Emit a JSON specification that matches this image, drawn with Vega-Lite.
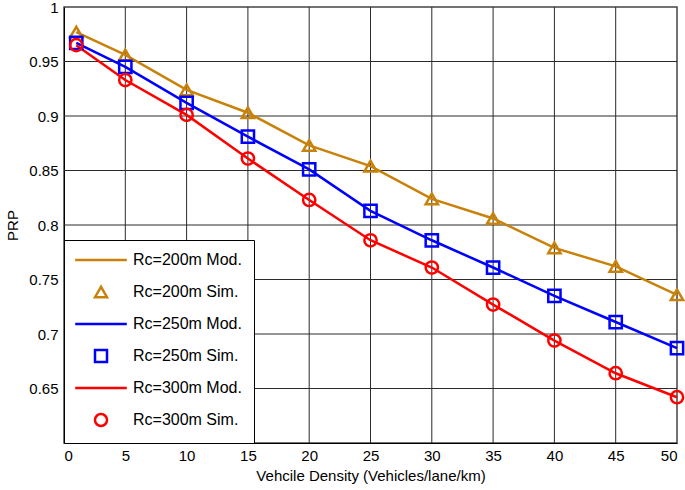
{
  "$schema": "https://vega.github.io/schema/vega-lite/v6.json",
  "width": 613,
  "height": 436,
  "autosize": "none",
  "padding": {"left": 64, "top": 7, "right": 8, "bottom": 47},
  "background": "white",
  "config": {
    "font": "Liberation Sans",
    "view": {"stroke": "#444", "strokeWidth": 1.5},
    "axis": {
      "grid": false,
      "domainColor": "#000",
      "ticks": false,
      "labelFontSize": 15,
      "labelColor": "#000",
      "titleFontSize": 15,
      "titleFontWeight": "normal",
      "titleColor": "#000"
    }
  },
  "datasets": {
    "gridx": [{"x": 5}, {"x": 10}, {"x": 15}, {"x": 20}, {"x": 25}, {"x": 30}, {"x": 35}, {"x": 40}, {"x": 45}],
    "gridy": [{"y": 0.65}, {"y": 0.7}, {"y": 0.75}, {"y": 0.8}, {"y": 0.85}, {"y": 0.9}, {"y": 0.95}],
    "prp": [
      {"x": 1, "y": 0.977, "rc": "200m"},
      {"x": 5, "y": 0.956, "rc": "200m"},
      {"x": 10, "y": 0.924, "rc": "200m"},
      {"x": 15, "y": 0.903, "rc": "200m"},
      {"x": 20, "y": 0.873, "rc": "200m"},
      {"x": 25, "y": 0.854, "rc": "200m"},
      {"x": 30, "y": 0.824, "rc": "200m"},
      {"x": 35, "y": 0.806, "rc": "200m"},
      {"x": 40, "y": 0.779, "rc": "200m"},
      {"x": 45, "y": 0.762, "rc": "200m"},
      {"x": 50, "y": 0.736, "rc": "200m"},
      {"x": 1, "y": 0.967, "rc": "250m"},
      {"x": 5, "y": 0.945, "rc": "250m"},
      {"x": 10, "y": 0.912, "rc": "250m"},
      {"x": 15, "y": 0.881, "rc": "250m"},
      {"x": 20, "y": 0.851, "rc": "250m"},
      {"x": 25, "y": 0.813, "rc": "250m"},
      {"x": 30, "y": 0.786, "rc": "250m"},
      {"x": 35, "y": 0.761, "rc": "250m"},
      {"x": 40, "y": 0.735, "rc": "250m"},
      {"x": 45, "y": 0.711, "rc": "250m"},
      {"x": 50, "y": 0.687, "rc": "250m"},
      {"x": 1, "y": 0.965, "rc": "300m"},
      {"x": 5, "y": 0.933, "rc": "300m"},
      {"x": 10, "y": 0.901, "rc": "300m"},
      {"x": 15, "y": 0.861, "rc": "300m"},
      {"x": 20, "y": 0.823, "rc": "300m"},
      {"x": 25, "y": 0.786, "rc": "300m"},
      {"x": 30, "y": 0.761, "rc": "300m"},
      {"x": 35, "y": 0.727, "rc": "300m"},
      {"x": 40, "y": 0.694, "rc": "300m"},
      {"x": 45, "y": 0.664, "rc": "300m"},
      {"x": 50, "y": 0.642, "rc": "300m"}
    ]
  },
  "layer": [
    {
      "data": {"name": "gridx"},
      "mark": {"type": "rule", "color": "#2a2a2a", "strokeWidth": 1},
      "encoding": {
        "x": {"field": "x", "type": "quantitative"}
      }
    },
    {
      "data": {"name": "gridy"},
      "mark": {"type": "rule", "color": "#2a2a2a", "strokeWidth": 1},
      "encoding": {
        "y": {"field": "y", "type": "quantitative"}
      }
    },
    {
      "data": {"name": "prp"},
      "transform": [{"calculate": "'Rc=' + datum.rc + ' Mod.'", "as": "label"}],
      "mark": {"type": "line", "strokeWidth": 2.5},
      "encoding": {
        "x": {
          "field": "x",
          "type": "quantitative",
          "scale": {"domain": [0, 50], "nice": false},
          "axis": {
            "values": [0, 5, 10, 15, 20, 25, 30, 35, 40, 45, 50],
            "title": "Vehcile Density (Vehicles/lane/km)",
            "labelPadding": 5,
            "titlePadding": 5
          }
        },
        "y": {
          "field": "y",
          "type": "quantitative",
          "scale": {"domain": [0.6, 1], "nice": false, "zero": false},
          "axis": {
            "values": [0.6, 0.65, 0.7, 0.75, 0.8, 0.85, 0.9, 0.95, 1],
            "labelExpr": "datum.value < 0.62 ? '' : format(datum.value, '~g')",
            "title": "PRP",
            "labelPadding": 6,
            "titlePadding": 8
          }
        },
        "color": {
          "field": "label",
          "type": "nominal",
          "scale": {
            "domain": ["Rc=200m Mod.", "Rc=200m Sim.", "Rc=250m Mod.", "Rc=250m Sim.", "Rc=300m Mod.", "Rc=300m Sim."],
            "range": ["#C8820A", "#C8820A", "#0000FF", "#0000FF", "#FF0000", "#FF0000"]
          },
          "legend": {
            "title": null,
            "orient": "bottom-left",
            "offset": 0,
            "padding": 12,
            "rowPadding": 13,
            "strokeColor": "#000",
            "fillColor": "white",
            "labelFontSize": 16,
            "labelColor": "#000",
            "labelLimit": 300,
            "symbolSize": 144,
            "symbolStrokeWidth": 2.5,
            "symbolOffset": 17,
            "labelOffset": 24,
            "symbolFillColor": "transparent"
          }
        }
      }
    },
    {
      "data": {"name": "prp"},
      "transform": [{"calculate": "'Rc=' + datum.rc + ' Sim.'", "as": "label"}],
      "mark": {"type": "point", "filled": false, "size": 150, "strokeWidth": 2.5, "opacity": 1},
      "encoding": {
        "x": {"field": "x", "type": "quantitative"},
        "y": {"field": "y", "type": "quantitative"},
        "color": {"field": "label", "type": "nominal"},
        "shape": {
          "field": "label",
          "type": "nominal",
          "scale": {
            "domain": ["Rc=200m Mod.", "Rc=200m Sim.", "Rc=250m Mod.", "Rc=250m Sim.", "Rc=300m Mod.", "Rc=300m Sim."],
            "range": ["M-4.3,0H4.3", "triangle-up", "M-4.3,0H4.3", "square", "M-4.3,0H4.3", "circle"]
          }
        }
      }
    }
  ]
}
